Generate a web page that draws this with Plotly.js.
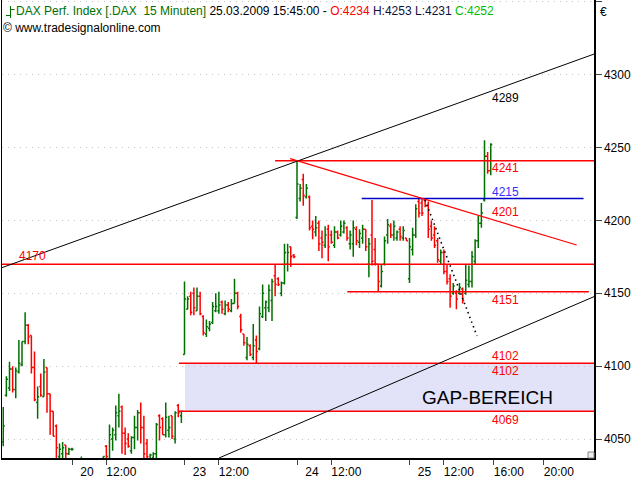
<!DOCTYPE html>
<html><head><meta charset="utf-8">
<script src="https://cdn.plot.ly/plotly-3.0.1.min.js"></script>
<style>html,body{margin:0;padding:0;background:#fff}#chart{width:640px;height:480px}</style>
</head><body><div id="chart"></div>
<script>
// 15-minute bars, index 0 = 19.03.2009 09:15 ; 36 bars per session
const firstBar = 14;
const open  = [4048,4080,4085,4098,4084,4096,4101,4117,4128,4121,4099,4075,4086,4079,4099,4081,4069,4059,4038,4040,4046,4040,4043,
  4030,4026,4029,4034,4020,4025,4018,4024,4030,4030,4045,4035,4050,4053,4066,4072,4054,4050,4042,4051,4058,4068,4058,4047,4036,4037,4040,4066,4064,4053,4056,4066,4050,4073,4066,
  4108,4139,4148,4150,4138,4148,4134,4122,4126,4130,4138,4138,4144,4136,4142,4138,4143,4150,4134,4122,4106,4114,4106,4118,4112,4134,4140,4140,4145,4162,4160,4150,4157,4170,4182,4176,
  4202,4215,4228,4216,4216,4196,4192,4198,4188,4183,4194,4190,4183,4192,4190,4192,4195,4184,4184,4194,4185,4188,4194,4170,4190,4180,4170,4155,4170,4190,4196,4190,4188,4194,4188,4188,
  4160,4180,4190,4213,4212,4214,4210,4196,4190,4186,4172,4178,4165,4160,4150,4150,4150,4153,4150,4156,4158,4172,4186,4198,4214,4244,4234];
const high  = [4072,4093,4103,4100,4099,4118,4117,4137,4129,4121,4110,4086,4095,4105,4099,4081,4069,4060,4047,4048,4046,4044,4044,
  4034,4032,4038,4035,4028,4030,4026,4033,4034,4038,4046,4060,4058,4073,4081,4073,4058,4054,4052,4066,4070,4075,4066,4050,4040,4041,4061,4067,4065,4075,4066,4066,4069,4074,4069,
  4158,4148,4151,4154,4154,4151,4135,4132,4131,4144,4150,4151,4145,4145,4144,4146,4160,4151,4136,4122,4120,4115,4129,4121,4141,4156,4145,4156,4160,4170,4161,4158,4184,4184,4182,4177,
  4241,4225,4232,4225,4217,4200,4203,4200,4193,4196,4197,4193,4196,4193,4200,4200,4196,4193,4200,4196,4194,4197,4194,4188,4214,4188,4170,4170,4189,4201,4198,4200,4193,4196,4196,4188,
  4188,4195,4211,4215,4215,4215,4213,4200,4196,4188,4180,4180,4170,4163,4157,4152,4157,4154,4170,4169,4179,4187,4203,4212,4255,4247,4253];
const low   = [4045,4079,4083,4082,4078,4095,4100,4115,4115,4095,4076,4064,4079,4079,4068,4053,4052,4030,4030,4030,4035,4039,4042,
  4022,4020,4027,4018,4012,4015,4010,4020,4022,4028,4030,4030,4042,4049,4058,4040,4039,4044,4040,4043,4049,4047,4030,4030,4030,4030,4030,4049,4053,4051,4051,4050,4047,4065,4061,
  4108,4139,4135,4135,4138,4135,4121,4120,4124,4129,4137,4136,4136,4135,4137,4137,4143,4139,4123,4114,4104,4107,4104,4102,4111,4133,4131,4137,4131,4148,4155,4148,4156,4165,4168,4174,
  4201,4213,4210,4215,4193,4187,4189,4179,4174,4181,4172,4184,4181,4187,4189,4191,4186,4180,4175,4183,4181,4184,4179,4161,4169,4169,4151,4154,4169,4184,4188,4186,4186,4186,4186,4186,
  4157,4176,4188,4202,4203,4209,4188,4186,4181,4171,4170,4163,4156,4140,4149,4139,4149,4143,4149,4154,4154,4170,4181,4195,4213,4232,4231];
const close = [4059,4091,4098,4084,4097,4102,4117,4128,4120,4099,4077,4079,4080,4096,4081,4069,4052,4044,4043,4044,4040,4043,4043,
  4026,4029,4035,4020,4025,4018,4024,4030,4026,4038,4038,4053,4056,4068,4069,4054,4047,4045,4051,4058,4068,4058,4040,4038,4039,4040,4060,4058,4053,4065,4058,4052,4068,4068,4069,
  4146,4146,4137,4140,4148,4136,4123,4127,4129,4141,4141,4142,4139,4142,4139,4143,4150,4141,4125,4116,4115,4108,4114,4110,4136,4150,4144,4152,4158,4156,4156,4157,4178,4178,4175,4175,
  4225,4222,4217,4222,4195,4194,4195,4184,4185,4190,4182,4185,4192,4188,4196,4198,4188,4190,4195,4186,4191,4194,4182,4184,4172,4170,4158,4165,4186,4197,4190,4196,4192,4189,4193,4186,
  4182,4190,4208,4205,4205,4210,4194,4188,4183,4173,4178,4165,4158,4148,4155,4146,4154,4145,4159,4158,4175,4186,4198,4205,4244,4234,4252];

const tickVals  = [36,47,72,83,108,119,144,155,171,187];
const tickText  = ["20","12:00","23","12:00","24","12:00","25","12:00","16:00","20:00"];

// horizontal levels
const levelValues = [4241, 4215, 4170, 4151, 4102, 4069];
// trend line anchors [barIndex, price]
const upperChannel = [[13.6, 4167.6], [203.04, 4314.1]];
const lowerChannel = [[83.04, 4037.0], [203.04, 4147.7]];
const downTrend    = [[105.8, 4242.4], [197.5, 4183.1]];
const dottedTrend  = [[148.96, 4214.0], [165.6, 4120.7]];
// right side labels
const rightLabels = ["4289","4241","4215","4201","4151","4102","4102","4069"];
const leftLabel = "4170";
const header = {name:"DAX Perf. Index [.DAX\u00a0\u00a015 Minuten]", time:"25.03.2009 15:45:00", o:"4234", h:"4253", l:"4231", c:"4252"};

const xs = open.map((_, k) => firstBar + k);
const XR = [13.6, 203.04], YR = [4037.0, 4351.2];
const RED = '#ff0000', GREEN = '#007000', BLUE = '#0000c8';
const FONT = 'Liberation Sans, Arial, sans-serif';
const px2paperX = px => (px - 2) / 592;
const py2paperY = py => (458 - py) / 458;
const py2price = py => YR[1] - py * (YR[1] - YR[0]) / 458;

const trace = {
  type: 'ohlc', x: xs, open: open, high: high, low: low, close: close,
  increasing: {line: {color: GREEN, width: 1.5}},
  decreasing: {line: {color: RED, width: 1.5}},
  tickwidth: 0.5, hoverinfo: 'skip', showlegend: false
};

const shapes = [];
// gap area
shapes.push({type:'rect', xref:'x', yref:'y', x0:72.16, x1:XR[1], y0:levelValues[5], y1:levelValues[4],
  fillcolor:'#e2e2f8', line:{width:0}, layer:'below'});
const hl = (v, x0, x1, color) => shapes.push({type:'line', xref:'x', yref:'y', x0:x0, x1:x1, y0:v, y1:v,
  line:{color:color, width:1.5}, layer:'above'});
hl(levelValues[0], 101, XR[1], RED);
hl(levelValues[1], 128.7, 199.7, BLUE);
hl(levelValues[2], XR[0], XR[1], RED);
hl(levelValues[3], 124.1, 201.4, RED);
hl(levelValues[4], 70.2, XR[1], RED);
hl(levelValues[5], 70.2, XR[1], RED);
const tl = (pts, color, width, dash) => shapes.push({type:'line', xref:'x', yref:'y',
  x0:pts[0][0], y0:pts[0][1], x1:pts[1][0], y1:pts[1][1], line:{color:color, width:width, dash:dash||'solid'}, layer:'above'});
tl(upperChannel, '#000', 1);
tl(lowerChannel, '#000', 1);
tl(downTrend, RED, 1.2);
tl(dottedTrend, '#000', 1.6, '1.5px,3.5px');
// header icon
const ic = (x0,y0,x1,y1) => shapes.push({type:'line', xref:'paper', yref:'paper',
  x0:px2paperX(x0), x1:px2paperX(x1), y0:py2paperY(y0), y1:py2paperY(y1), line:{color:GREEN, width:1}});
ic(10.5, 6, 10.5, 18); ic(6, 15.5, 10.5, 15.5); ic(10.5, 9.5, 14.5, 9.5);
// resize grip
shapes.push({type:'rect', xref:'paper', yref:'paper', x0:px2paperX(588), x1:px2paperX(594), y0:py2paperY(458), y1:py2paperY(452),
  line:{color:'#888', width:1}, fillcolor:'#eee'});

const annotations = [];
const lab = (text, py, color) => annotations.push({xref:'x', yref:'y', x:170, y:py2price(py), text:text,
  xanchor:'left', yanchor:'middle', showarrow:false, font:{family:FONT, size:12, color:color}, xshift:-1});
const rightPy = [98, 168, 191.7, 211.7, 300, 355.5, 370.5, 419.5];
const rightCol = ['#000', RED, '#3030ff', RED, RED, RED, RED, RED];
rightLabels.forEach((t, k) => lab(t, rightPy[k], rightCol[k]));
annotations.push({xref:'x', yref:'y', x:18.8, y:py2price(256), text:leftLabel, xanchor:'left', yanchor:'middle',
  showarrow:false, font:{family:FONT, size:12, color:RED}, xshift:-1});
annotations.push({xref:'paper', yref:'paper', x:px2paperX(487.5), y:py2paperY(397), text:'GAP-BEREICH',
  xanchor:'center', yanchor:'middle', showarrow:false, font:{family:FONT, size:19, color:'#000'}});
annotations.push({xref:'paper', yref:'paper', x:px2paperX(16), y:py2paperY(11.5), xanchor:'left', yanchor:'middle', showarrow:false,
  text:'<span style="color:'+GREEN+'">'+header.name+'</span> '+header.time+' - <span style="color:#ff0000">O:'+header.o+
    '</span> <span style="color:#101040">H:'+header.h+' L:'+header.l+'</span> <span style="color:#00c000">C:'+header.c+'</span>',
  font:{family:FONT, size:12, color:'#000'}, xshift:-2});
annotations.push({xref:'paper', yref:'paper', x:px2paperX(3), y:py2paperY(28), xanchor:'left', yanchor:'middle', showarrow:false,
  text:'© www.tradesignalonline.com', font:{family:FONT, size:12, color:'#000'}, xshift:-2});
annotations.push({xref:'paper', yref:'paper', x:px2paperX(603.5), y:py2paperY(12), xanchor:'center', yanchor:'middle', showarrow:false,
  text:'€', font:{family:FONT, size:12, color:'#000'}});

const layout = {
  width:640, height:480, margin:{l:2, r:46, t:0, b:22}, paper_bgcolor:'#fff', plot_bgcolor:'#fff',
  showlegend:false, dragmode:false,
  xaxis:{range:XR, rangeslider:{visible:false}, showgrid:false, zeroline:false, tickmode:'array', tickvals:tickVals, ticktext:tickText,
    ticks:'outside', ticklen:5, tickwidth:1, tickcolor:'#444', ticklabelshift:15, ticklabelstandoff:-3,
    tickfont:{family:FONT, size:12, color:'#000'},
    showline:true, linecolor:'#000', linewidth:1.5, mirror:true},
  yaxis:{side:'right', range:YR, tick0:4050, dtick:50, showgrid:true, gridcolor:'#c4c4c4', griddash:'1px,5px', gridwidth:1,
    zeroline:false, ticks:'outside', ticklen:6, tickwidth:1, tickcolor:'#444', tickfont:{family:FONT, size:12, color:'#000'},
    showline:true, linecolor:'#000', linewidth:1.5, mirror:true},
  shapes:shapes, annotations:annotations
};
Plotly.newPlot('chart', [trace], layout, {staticPlot:true, displayModeBar:false});
</script></body></html>
